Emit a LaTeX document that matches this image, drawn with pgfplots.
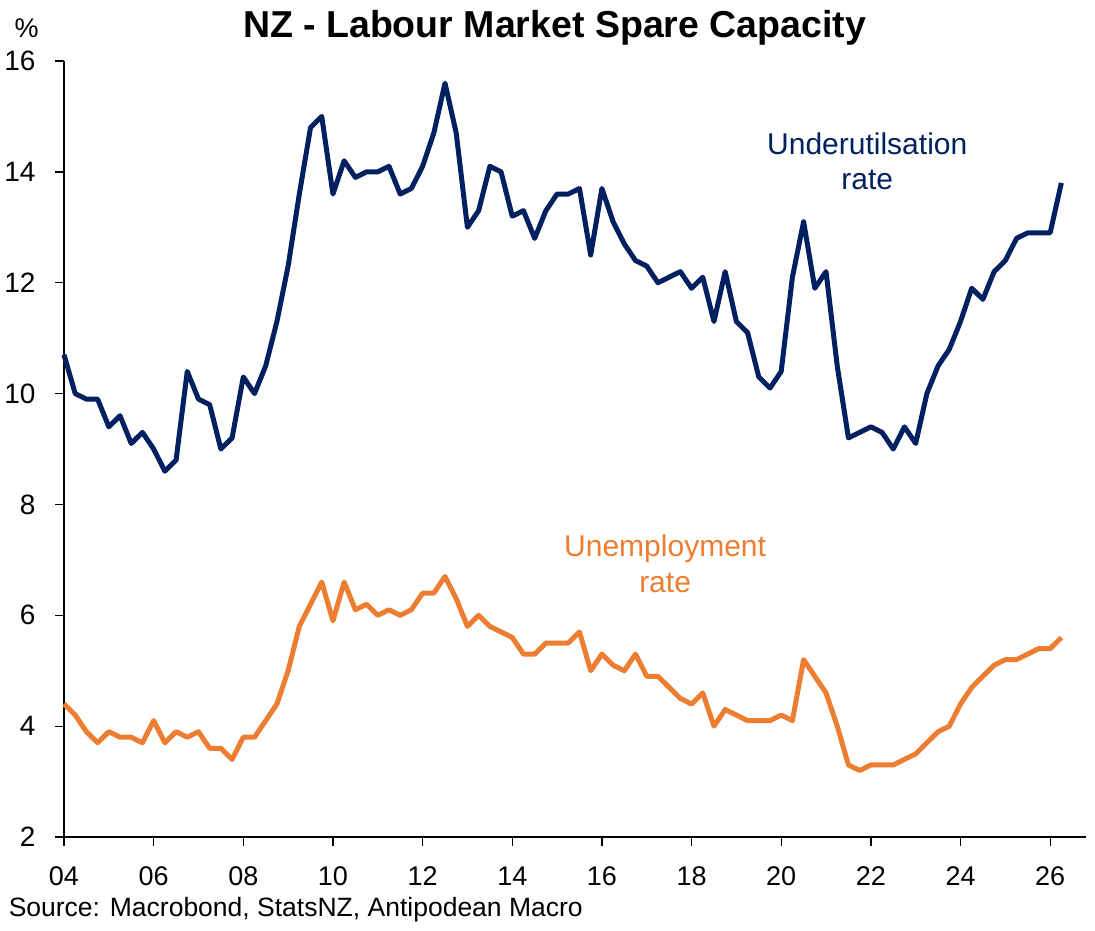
\documentclass[border=0pt]{standalone}
\usepackage{fontspec}
\setmainfont{Liberation Sans}
\usepackage{pgfplots}
\usepackage{pgfplotstable}
\pgfplotsset{compat=1.18}
\definecolor{navy}{RGB}{0,32,96}
\definecolor{orng}{RGB}{237,125,49}
\pgfplotstableread{
year under unemp
2004.00 10.7 4.4
2004.25 10.0 4.2
2004.50 9.9 3.9
2004.75 9.9 3.7
2005.00 9.4 3.9
2005.25 9.6 3.8
2005.50 9.1 3.8
2005.75 9.3 3.7
2006.00 9.0 4.1
2006.25 8.6 3.7
2006.50 8.8 3.9
2006.75 10.4 3.8
2007.00 9.9 3.9
2007.25 9.8 3.6
2007.50 9.0 3.6
2007.75 9.2 3.4
2008.00 10.3 3.8
2008.25 10.0 3.8
2008.50 10.5 4.1
2008.75 11.3 4.4
2009.00 12.3 5.0
2009.25 13.6 5.8
2009.50 14.8 6.2
2009.75 15.0 6.6
2010.00 13.6 5.9
2010.25 14.2 6.6
2010.50 13.9 6.1
2010.75 14.0 6.2
2011.00 14.0 6.0
2011.25 14.1 6.1
2011.50 13.6 6.0
2011.75 13.7 6.1
2012.00 14.1 6.4
2012.25 14.7 6.4
2012.50 15.6 6.7
2012.75 14.7 6.3
2013.00 13.0 5.8
2013.25 13.3 6.0
2013.50 14.1 5.8
2013.75 14.0 5.7
2014.00 13.2 5.6
2014.25 13.3 5.3
2014.50 12.8 5.3
2014.75 13.3 5.5
2015.00 13.6 5.5
2015.25 13.6 5.5
2015.50 13.7 5.7
2015.75 12.5 5.0
2016.00 13.7 5.3
2016.25 13.1 5.1
2016.50 12.7 5.0
2016.75 12.4 5.3
2017.00 12.3 4.9
2017.25 12.0 4.9
2017.50 12.1 4.7
2017.75 12.2 4.5
2018.00 11.9 4.4
2018.25 12.1 4.6
2018.50 11.3 4.0
2018.75 12.2 4.3
2019.00 11.3 4.2
2019.25 11.1 4.1
2019.50 10.3 4.1
2019.75 10.1 4.1
2020.00 10.4 4.2
2020.25 12.1 4.1
2020.50 13.1 5.2
2020.75 11.9 4.9
2021.00 12.2 4.6
2021.25 10.5 4.0
2021.50 9.2 3.3
2021.75 9.3 3.2
2022.00 9.4 3.3
2022.25 9.3 3.3
2022.50 9.0 3.3
2022.75 9.4 3.4
2023.00 9.1 3.5
2023.25 10.0 3.7
2023.50 10.5 3.9
2023.75 10.8 4.0
2024.00 11.3 4.4
2024.25 11.9 4.7
2024.50 11.7 4.9
2024.75 12.2 5.1
2025.00 12.4 5.2
2025.25 12.8 5.2
2025.50 12.9 5.3
2025.75 12.9 5.4
2026.00 12.9 5.4
2026.25 13.8 5.6
}\data
\begin{document}
\begin{tikzpicture}
\begin{axis}[
  scale only axis, width=1022pt, height=776pt,
  xmin=2004, xmax=2026.8, ymin=2, ymax=16,
  axis x line*=bottom, axis y line*=left,
  axis line style={line width=1.3pt, -},
  x axis line style={-}, y axis line style={-},
  xtick={2004,2006,...,2026},
  xticklabels={04,06,08,10,12,14,16,18,20,22,24,26},
  ytick={2,4,...,16},
  tick align=outside, major tick length=9pt,
  tick style={line width=1.3pt, black},
  xticklabel style={font=\fontsize{27}{32}\selectfont, yshift=-17pt},
  yticklabel style={font=\fontsize{28}{33}\selectfont, xshift=-16pt},
  /pgf/number format/assume math mode=true,
  clip=false,
]
\addplot[navy, line width=5pt, line join=round] table[x=year,y=under]{\data};
\addplot[orng, line width=5pt, line join=round] table[x=year,y=unemp]{\data};
\node[navy, align=center, font=\fontsize{30}{35.5}\selectfont] at (axis cs:2021.92,14.19) {Underutilsation\\rate};
\node[orng, align=center, font=\fontsize{30}{35.5}\selectfont] at (axis cs:2017.41,6.93) {Unemployment\\rate};
\node[font=\bfseries\fontsize{37.5}{43}\selectfont] at (rel axis cs:0.48,1.0425) {NZ - Labour Market Spare Capacity};
\node[font=\fontsize{27}{32}\selectfont] at (rel axis cs:-0.0366,1.0425) {\%};
\node[anchor=west, font=\fontsize{26.5}{30}\selectfont] at (rel axis cs:-0.0575,-0.0941) {Source: Macrobond, StatsNZ, Antipodean Macro};
\path (rel axis cs:-0.06262,-0.11985) rectangle (rel axis cs:1.00881,1.07861);
\end{axis}
\end{tikzpicture}
\end{document}
